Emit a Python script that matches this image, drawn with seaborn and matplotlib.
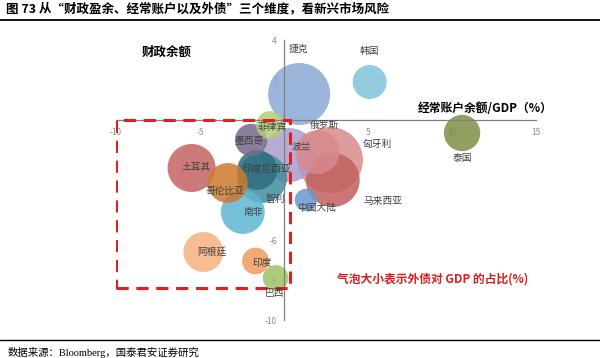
import matplotlib
matplotlib.use("Agg")
import matplotlib.pyplot as plt
import seaborn as sns
import pandas as pd
from matplotlib.patches import Rectangle
from matplotlib.lines import Line2D

# ---- data (drawn largest first so smaller bubbles sit on top) ----
countries = ["匈牙利", "捷克", "马来西亚", "波兰", "智利", "土耳其", "俄罗斯", "南非",
             "印度尼西亚", "哥伦比亚", "阿根廷", "泰国", "韩国", "墨西哥", "菲律宾",
             "印度", "巴西", "中国大陆"]
current_account = [2.74, 0.9, 2.9, 0.3, -1.3, -5.5, 2.0, -2.45,
                   -1.6, -3.35, -4.8, 10.6, 5.1, -1.96, -0.83,
                   -1.7, -0.5, 1.3]
fiscal_balance = [-2.0, 1.3, -3.0, -1.75, -2.9, -2.4, -1.6, -4.6,
                  -2.5, -3.15, -6.6, -0.65, 1.9, -1.0, -0.25,
                  -7.05, -7.9, -4.0]
external_debt = [79, 70, 53, 53, 45, 42, 35, 35,
                 29, 29, 29, 24, 21, 19, 14,
                 13, 12, 9]
x_ticks = [-10, -5, 0, 5, 10, 15]
x_tick_labels = ["-10", "-5", "", "5", "10", "15"]
y_ticks = [4, 2, 0, -2, -4, -6, -8, -10]
y_tick_labels = ["4", "2", "0", "", "", "-6", "-8", "-10"]

colors = {
    "匈牙利": "#D98C8C", "捷克": "#8BA8D5", "马来西亚": "#C0605F", "波兰": "#A99DCB",
    "智利": "#3F8D9C", "土耳其": "#C66363", "俄罗斯": "#D88A8E", "南非": "#5DB7D0",
    "印度尼西亚": "#2D6C7E", "哥伦比亚": "#CC7A2E", "阿根廷": "#F6B17E", "泰国": "#7C8F45",
    "韩国": "#7EC5D9", "墨西哥": "#76688C", "菲律宾": "#B3CE78", "印度": "#EF9B5A",
    "巴西": "#9CC266", "中国大陆": "#6A97CD",
}
# label offsets in points (layout only)
label_offsets = {
    "匈牙利": (34, 11.5), "捷克": (-0.7, 32.4), "马来西亚": (36, -15), "波兰": (8.6, 5.8),
    "智利": (9.4, -15.1), "土耳其": (3.6, 0.7), "俄罗斯": (5, 19.4), "南非": (7.2, 0),
    "印度尼西亚": (7.2, 0.7), "哥伦比亚": (-2.2, -5.8), "阿根廷": (5.8, 0), "泰国": (0, -18),
    "韩国": (0, 22.3), "墨西哥": (-1.4, -0.7), "菲律宾": (1.4, -1.4), "印度": (5, -1.4),
    "巴西": (-0.7, -10.8), "中国大陆": (7.9, -5.8),
}

df = pd.DataFrame({"country": countries, "ca": current_account,
                   "fiscal": fiscal_balance, "debt": external_debt})

sns.set_theme(style="white")
plt.rcParams["font.family"] = ["Noto Sans CJK SC", "DejaVu Sans"]
plt.rcParams["axes.unicode_minus"] = False

fig = plt.figure(figsize=(6.0, 3.58), dpi=100)
ax = fig.add_axes([116 / 600, 1 - 320 / 358, 420 / 600, 280 / 358])

sns.scatterplot(data=df, x="ca", y="fiscal", size="debt", sizes=(0, 2847),
                size_norm=(0, 100), hue="country", palette=colors, alpha=0.85,
                edgecolor="none", linewidth=0, legend=False, ax=ax, zorder=2)

for c, xv, yv in zip(countries, current_account, fiscal_balance):
    dx, dy = label_offsets[c]
    ax.annotate(c, (xv, yv), xytext=(dx, dy), textcoords="offset points",
                ha="center", va="center", fontsize=7, color="#404040", zorder=5)

ax.set_xlim(-10, 15)
ax.set_ylim(-10, 4)
ax.set_xticks(x_ticks)
ax.set_yticks(y_ticks)
ax.set_xticklabels(x_tick_labels)
ax.set_yticklabels(y_tick_labels)
ax.set_xlabel("")
ax.set_ylabel("")

for s in ["top", "right"]:
    ax.spines[s].set_visible(False)
ax.spines["left"].set_position(("data", 0))
ax.spines["bottom"].set_position(("data", 0))
for s in ["left", "bottom"]:
    ax.spines[s].set_color("#808080")
    ax.spines[s].set_linewidth(0.9)
    ax.spines[s].set_zorder(3)
ax.tick_params(axis="both", which="both", direction="out", length=3, width=0.8,
               color="#808080", labelsize=6, labelcolor="#8a8a8a", pad=2)
ax.tick_params(axis="x", pad=3)
ax.patch.set_alpha(0)

# red dashed frame
rect = Rectangle((-10, -8.4), 10.35, 8.4, fill=False, edgecolor="#E01F1F",
                 linewidth=2.2, linestyle=(0, (4, 2.5)), zorder=4)
ax.add_patch(rect)

# axis titles
fig.text(167 / 600, 1 - 52 / 358, "财政余额", fontsize=9, fontweight="bold",
         ha="center", va="center", color="#000000")
fig.text(485 / 600, 1 - 109 / 358, "经常账户余额/GDP（%）", fontsize=8.5,
         fontweight="bold", ha="center", va="center", color="#000000")
fig.text(337 / 600, 1 - 279 / 358, "气泡大小表示外债对 GDP 的占比(%)", fontsize=8.5,
         fontweight="bold", ha="left", va="center", color="#D81E1E")

# header and footer
fig.text(6 / 600, 1 - 9 / 358, "图 73 从“财政盈余、经常账户以及外债”三个维度，看新兴市场风险",
         fontsize=9, fontweight="bold", ha="left", va="center", color="#000000")
fig.add_artist(Line2D([0, 1], [1 - 19.5 / 358] * 2, color="#000000", linewidth=1.3,
                      transform=fig.transFigure))
fig.add_artist(Line2D([0, 1], [1 - 340 / 358] * 2, color="#000000", linewidth=1.0,
                      transform=fig.transFigure))
fig.text(8 / 600, 1 - 352 / 358, "数据来源：Bloomberg，国泰君安证券研究", fontsize=7.5,
         ha="left", va="center", color="#000000",
         family=["Liberation Serif", "Noto Sans CJK SC"])

fig.savefig("out.png", dpi=100)
